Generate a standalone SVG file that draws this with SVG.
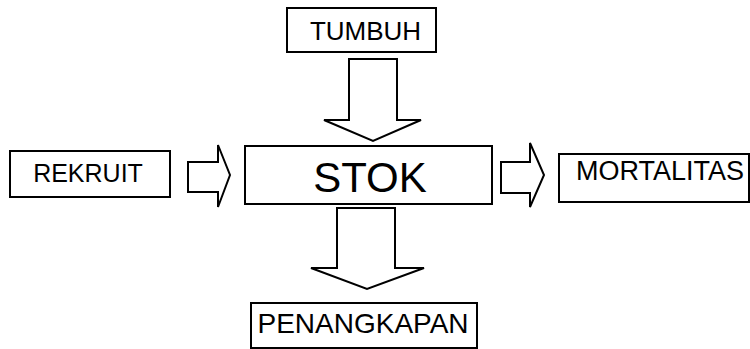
<svg xmlns="http://www.w3.org/2000/svg" width="750" height="349" viewBox="0 0 750 349">
<style>
.box{fill:#fff;stroke:#000;stroke-width:2}
.arr{fill:#fff;stroke:#000;stroke-width:2;stroke-linejoin:miter}
text{font-family:"Liberation Sans",Arial,sans-serif;fill:#000}
</style>
<rect width="750" height="349" fill="#fff"/>
<g id="connectors">
<path class="arr" d="M349,59 H397 V120 H421 L373,141 L324,120 H349 Z"/>
<path class="arr" d="M337,208 H395 V268 H424 L367,289 L311,268 H337 Z"/>
<path class="arr" d="M188,162 H218 V145 L230,175 L218,207 V192 H188 Z"/>
<path class="arr" d="M501,162 H530 V143 L544,175 L530,207 V193 H501 Z"/>
</g>
<g id="tumbuh">
<rect class="box" x="287" y="8" width="149" height="44"/>
<text x="365.5" y="40" font-size="26" text-anchor="middle">TUMBUH</text>
</g>
<g id="stok">
<rect class="box" x="245" y="146" width="247" height="58"/>
<text x="370" y="192" font-size="42" text-anchor="middle">STOK</text>
</g>
<g id="rekruit">
<rect class="box" x="10" y="151" width="160" height="46"/>
<text x="88" y="182" font-size="25" text-anchor="middle">REKRUIT</text>
</g>
<g id="mortalitas">
<rect class="box" x="559" y="154" width="190" height="48"/>
<text x="660" y="180" font-size="27" text-anchor="middle">MORTALITAS</text>
</g>
<g id="penangkapan">
<rect class="box" x="251" y="303" width="226" height="45"/>
<text x="363" y="333" font-size="28" text-anchor="middle">PENANGKAPAN</text>
</g>
</svg>
